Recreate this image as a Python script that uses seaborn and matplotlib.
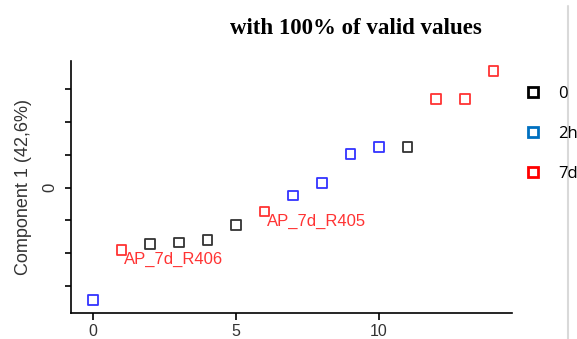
import numpy as np
import pandas as pd
import matplotlib
matplotlib.use('Agg')
import matplotlib.pyplot as plt
import seaborn as sns
from matplotlib.lines import Line2D

# Data
sample_index = [0, 1, 2, 3, 4, 5, 6, 7, 8, 9, 10, 11, 12, 13, 14]
component_1 = [-3.43, -1.91, -1.72, -1.68, -1.60, -1.14, -0.73, -0.24, 0.14,
               1.03, 1.24, 1.25, 2.70, 2.70, 3.57]
group = ['2h', '7d', '0', '0', '0', '0', '7d', '2h', '2h',
         '2h', '2h', '0', '7d', '7d', '7d']

group_order = ['0', '2h', '7d']
plot_colors = {'0': '#333333', '2h': '#3333FF', '7d': '#FF3333'}
legend_colors = {'0': '#000000', '2h': '#0070C0', '7d': '#FF0000'}

# labelled samples: (index, text)
labelled = [(1, 'AP_7d_R406'), (6, 'AP_7d_R405')]

df = pd.DataFrame({'idx': sample_index, 'comp1': component_1, 'group': group})

sns.set_style('white')
plt.rcParams['font.family'] = ['Liberation Sans', 'DejaVu Sans']

fig = plt.figure(figsize=(5.77, 3.39), dpi=100)
ax = fig.add_axes([71 / 577, 1 - 313 / 339, (512 - 71) / 577, (313 - 61) / 339])

sns.scatterplot(data=df, x='idx', y='comp1', hue='group', hue_order=group_order,
                palette=plot_colors, marker='s', s=48, linewidth=1.3,
                legend=False, ax=ax)

# make the squares hollow
coll = ax.collections[0]
fc = coll.get_facecolors()
coll.set_edgecolors(fc)
coll.set_facecolors('none')

for i, txt in labelled:
    ax.annotate(txt, (sample_index[i], component_1[i]), xytext=(1.5, -7),
                textcoords='offset points', ha='left', va='center',
                color='#FF3333', fontsize=12)

ax.set_xlim(-0.77, 14.65)
ax.set_ylim(-3.83, 3.87)
ax.set_xticks([0, 5, 10])
ax.set_yticks([-3, -2, -1, 0, 1, 2, 3])
ax.set_yticklabels(['', '', '', '0', '', '', ''])
ax.tick_params(axis='y', direction='out', length=4, width=1.2, color='black',
               pad=6, labelsize=12, labelcolor='#333333', left=True)
ax.tick_params(axis='x', direction='out', length=5, width=1.2, color='black',
               pad=3, labelsize=11.5, labelcolor='#333333', bottom=True)
for lab in ax.get_yticklabels():
    lab.set_rotation(90)
    lab.set_va('center')

ax.set_xlabel('')
ax.set_ylabel('Component 1 (42,6%)', fontsize=13, color='#333333', labelpad=7)

sns.despine(ax=ax)
for side in ['left', 'bottom']:
    ax.spines[side].set_color('black')
    ax.spines[side].set_linewidth(1.2)

fig.text(356 / 577, 1 - 28 / 339, 'with 100% of valid values', ha='center', va='center',
         fontsize=16.5, fontweight='bold', color='black',
         family=['Liberation Serif', 'DejaVu Serif'])

handles = [Line2D([], [], marker='s', ls='', mfc='none', mec=legend_colors[g],
                  mew=2, ms=7.5) for g in group_order]
fig.legend(handles, group_order, loc='upper left', bbox_to_anchor=(523 / 577, 1 - 86 / 339),
           frameon=False, handletextpad=0.9, labelspacing=1.45, handlelength=1.2,
           borderaxespad=0, borderpad=0, labelcolor='black',
           prop={'family': 'Open Sans', 'size': 12})

fig.add_artist(Line2D([568 / 577, 568 / 577], [0, 1 - 6 / 339], color='#D9D9D9', lw=1.5,
                      transform=fig.transFigure))

fig.savefig('out.png', dpi=100)
